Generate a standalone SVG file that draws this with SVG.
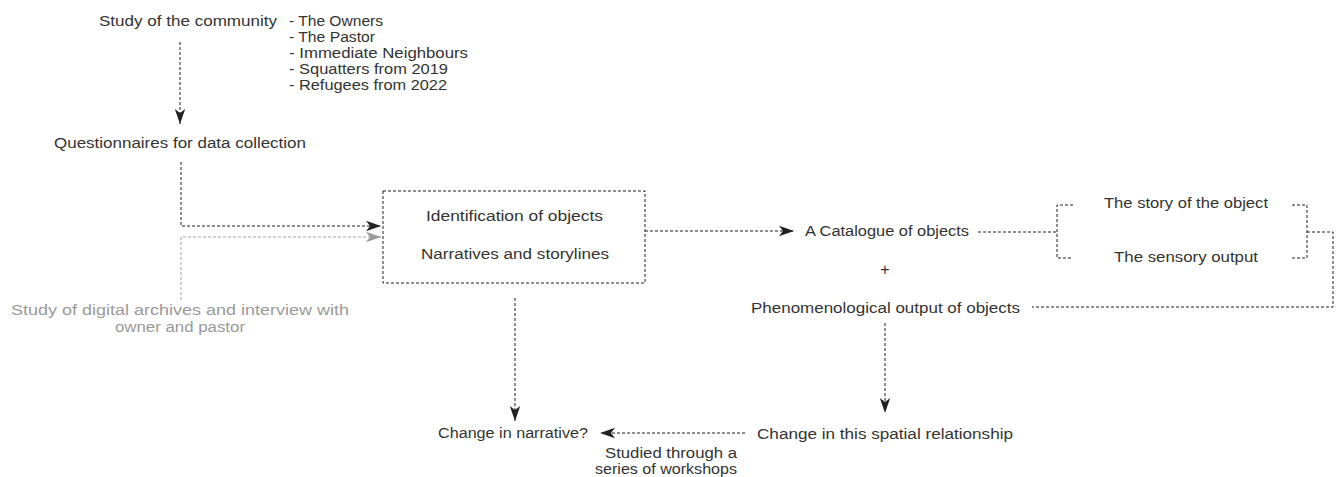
<svg xmlns="http://www.w3.org/2000/svg" width="1344" height="477" viewBox="0 0 1344 477">
<style>
text{font-family:"Liberation Sans",Arial,sans-serif;font-size:14px;fill:#333}
.g{fill:#9a9a9a}
.ln{fill:none;stroke:#222;stroke-width:1;stroke-dasharray:3 2}
.lg{fill:none;stroke:#a0a0a0;stroke-width:1;stroke-dasharray:3 2}
</style>
<defs>
<marker id="ah" markerUnits="userSpaceOnUse" markerWidth="17" markerHeight="12" refX="16" refY="6" orient="auto" viewBox="0 0 17 12">
<path d="M1,0.8 L16,6 L1,11.2 L5,6 Z" fill="#222"/>
</marker>
<marker id="ahg" markerUnits="userSpaceOnUse" markerWidth="17" markerHeight="12" refX="16" refY="6" orient="auto" viewBox="0 0 17 12">
<path d="M1,0.8 L16,6 L1,11.2 L5,6 Z" fill="#9a9a9a"/>
</marker>
</defs>
<rect width="1344" height="477" fill="#fff"/>
<g id="connectors">
<path class="ln" d="M180,42 V124" marker-end="url(#ah)"/>
<path class="ln" d="M181,162 V226 H381" marker-end="url(#ah)"/>
<path class="lg" d="M181,300 V237 H381" marker-end="url(#ahg)"/>
<path class="ln" d="M645,231 H794" marker-end="url(#ah)"/>
<path class="ln" d="M978,232 H1057"/>
<path class="ln" d="M1073,205 H1057 V258 H1073"/>
<path class="ln" d="M1292,205 H1307 V258 H1292"/>
<path class="ln" d="M1307,232 H1333 V307 H1032"/>
<path class="ln" d="M885,323 V413" marker-end="url(#ah)"/>
<path class="ln" d="M515,298 V421" marker-end="url(#ah)"/>
<path class="ln" d="M745,433 H600" marker-end="url(#ah)"/>
</g>
<g id="community">
<text x="99" y="26" textLength="178" lengthAdjust="spacingAndGlyphs">Study of the community</text>
</g>
<g id="community-list">
<text x="289" y="26" textLength="94" lengthAdjust="spacingAndGlyphs">- The Owners</text>
<text x="289" y="42" textLength="86" lengthAdjust="spacingAndGlyphs">- The Pastor</text>
<text x="289" y="58" textLength="179" lengthAdjust="spacingAndGlyphs">- Immediate Neighbours</text>
<text x="289" y="74" textLength="159" lengthAdjust="spacingAndGlyphs">- Squatters from 2019</text>
<text x="289" y="90" textLength="158" lengthAdjust="spacingAndGlyphs">- Refugees from 2022</text>
</g>
<g id="questionnaires">
<text x="54" y="148" textLength="252" lengthAdjust="spacingAndGlyphs">Questionnaires for data collection</text>
</g>
<g id="archives">
<text class="g" x="11" y="315" textLength="338" lengthAdjust="spacingAndGlyphs">Study of digital archives and interview with</text>
<text class="g" x="115" y="332" textLength="130" lengthAdjust="spacingAndGlyphs">owner and pastor</text>
</g>
<g id="identification">
<rect x="383" y="191" width="262" height="92" class="ln"/>
<text x="426" y="221" textLength="177" lengthAdjust="spacingAndGlyphs">Identification of objects</text>
<text x="421" y="259" textLength="188" lengthAdjust="spacingAndGlyphs">Narratives and storylines</text>
</g>
<g id="catalogue">
<text x="805" y="236" textLength="164" lengthAdjust="spacingAndGlyphs">A Catalogue of objects</text>
</g>
<g id="plus">
<text x="885" y="275" text-anchor="middle" style="font-size:16px">+</text>
</g>
<g id="story">
<text x="1104" y="208" textLength="164" lengthAdjust="spacingAndGlyphs">The story of the object</text>
</g>
<g id="sensory">
<text x="1114" y="262" textLength="144" lengthAdjust="spacingAndGlyphs">The sensory output</text>
</g>
<g id="phenomenological">
<text x="751" y="313" textLength="269" lengthAdjust="spacingAndGlyphs">Phenomenological output of objects</text>
</g>
<g id="spatial">
<text x="757" y="439" textLength="256" lengthAdjust="spacingAndGlyphs">Change in this spatial relationship</text>
</g>
<g id="narrative">
<text x="438" y="438" textLength="150" lengthAdjust="spacingAndGlyphs">Change in narrative?</text>
</g>
<g id="workshops">
<text x="605" y="458" textLength="132" lengthAdjust="spacingAndGlyphs">Studied through a</text>
<text x="595" y="474" textLength="142" lengthAdjust="spacingAndGlyphs">series of workshops</text>
</g>
</svg>
